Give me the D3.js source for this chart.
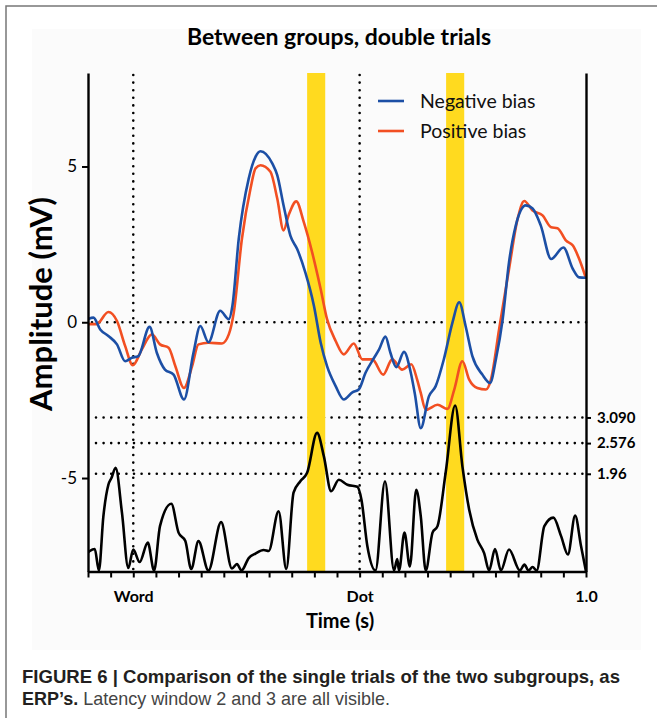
<!DOCTYPE html>
<html><head><meta charset="utf-8">
<script src="https://cdn.jsdelivr.net/npm/d3@7"></script>
<style>body{margin:0;background:#fff} svg{display:block}</style>
</head><body><svg id="c" width="657" height="718"></svg>
<script>
// ---------- data ----------
const title = "Between groups, double trials";
const seriesNames = ["Negative bias", "Positive bias"];
const xTickLabels = {"0": "Word", "0.5": "Dot", "1": "1.0"};
const yTickValues = [-5, 0, 5];
const zThresholds = [1.96, 2.576, 3.09];
const zThresholdLabels = ["1.96", "2.576", "3.090"];
const bands = [[0.384, 0.424], [0.691, 0.731]];
const markers = [0, 0.5];

const negT = [-0.1,-0.088,-0.073,-0.055,-0.036,-0.018,-0.003,0.011,0.036,0.052,0.070,0.089,0.112,0.133,0.148,0.166,0.192,0.211,0.219,0.233,0.255,0.270,0.281,0.307,0.318,0.332,0.347,0.362,0.380,0.399,0.414,0.428,0.447,0.465,0.484,0.498,0.513,0.532,0.543,0.557,0.568,0.581,0.598,0.613,0.622,0.635,0.653,0.668,0.686,0.705,0.720,0.734,0.749,0.771,0.788,0.801,0.816,0.830,0.845,0.867,0.882,0.900,0.923,0.950,0.971,0.985,1.0];
const negA = [0.10,0.15,-0.23,-0.44,-0.71,-1.25,-1.14,-1.09,-0.15,-0.98,-1.52,-1.68,-2.48,-0.98,-0.12,-0.64,0.37,0.10,0.53,2.68,4.61,5.31,5.49,5.10,4.72,3.75,2.78,2.35,1.60,0.53,-0.66,-1.41,-2.05,-2.48,-2.25,-2.16,-1.62,-1.14,-0.87,-0.46,-0.98,-1.44,-0.95,-1.62,-2.30,-3.40,-2.38,-2.05,-1.19,-0.01,0.64,-0.12,-1.09,-1.68,-1.95,-1.19,0.10,1.93,3.11,3.75,3.65,3.11,2.03,2.40,1.71,1.44,1.43];

const posT = [-0.1,-0.081,-0.055,-0.036,-0.018,-0.001,0.019,0.041,0.059,0.078,0.093,0.112,0.130,0.144,0.166,0.196,0.211,0.222,0.240,0.259,0.270,0.281,0.303,0.318,0.332,0.343,0.360,0.3765,0.395,0.414,0.428,0.447,0.465,0.487,0.506,0.528,0.552,0.572,0.594,0.614,0.627,0.635,0.646,0.672,0.694,0.709,0.727,0.742,0.760,0.779,0.790,0.808,0.830,0.849,0.8635,0.882,0.904,0.923,0.937,0.956,0.971,0.985,1.0];
const posA = [-0.06,-0.06,0.33,0.04,-0.76,-1.38,-0.87,-0.39,-0.71,-0.82,-1.41,-2.11,-1.41,-0.71,-0.66,-0.68,-0.39,0.31,2.68,4.29,4.94,5.04,4.83,3.97,2.95,3.43,3.88,3.22,2.25,1.06,0.10,-0.60,-1.03,-0.68,-1.19,-1.19,-1.68,-1.19,-1.52,-1.35,-1.84,-2.27,-2.81,-2.65,-2.78,-2.16,-1.25,-1.84,-2.11,-2.16,-1.84,-0.23,1.71,3.32,3.89,3.59,3.43,3.05,3.02,2.62,2.46,2.03,1.41];

const zT = [-0.1,-0.096,-0.085,-0.076,-0.066,-0.055,-0.048,-0.039,-0.025,-0.011,0.000,0.014,0.032,0.046,0.059,0.084,0.100,0.115,0.128,0.144,0.166,0.194,0.218,0.229,0.239,0.255,0.270,0.288,0.299,0.321,0.338,0.354,0.369,0.384,0.406,0.421,0.437,0.454,0.473,0.495,0.504,0.517,0.535,0.556,0.576,0.583,0.587,0.599,0.611,0.625,0.635,0.646,0.661,0.672,0.690,0.711,0.727,0.742,0.760,0.775,0.786,0.799,0.812,0.830,0.854,0.864,0.873,0.882,0.891,0.908,0.928,0.945,0.960,0.976,0.989,1.0];
const zV = [0.38,0.41,0.45,0.02,1.11,1.74,1.88,2.08,1.18,0.07,0.44,0.19,0.58,0.02,0.91,1.36,0.78,0.61,0.05,0.61,0.02,0.99,0.06,0.15,0.02,0.27,0.36,0.43,0.41,1.21,0.05,1.58,1.81,1.98,2.78,2.31,1.61,1.84,1.74,1.70,1.44,0.51,0.02,1.81,0.02,0.25,0.02,0.78,0.10,1.64,1.11,0.02,0.78,0.91,1.98,3.33,2.11,1.24,0.64,0.37,0.02,0.45,0.02,0.44,0.02,0.14,0.02,0.09,0.02,0.91,1.08,0.71,0.34,1.12,0.51,0.0];

// ---------- layout ----------
const svg = d3.select("#c");
const L = 88, R = 586, T = 73, B = 571.5;
const FONT = "Lato, 'Open Sans', sans-serif";
const x = d3.scaleLinear().domain([-0.1, 1.0]).range([L, R]);
const y = d3.scaleLinear().domain([-8, 8]).range([B, T]);
const z = d3.scaleLinear().domain([0, 10]).range([B, T]);
const BLUE = "#1c4fa5", RED = "#f24f22", YEL = "#ffda1f";

// frame + panel
svg.append("rect").attr("x", 32).attr("y", 29).attr("width", 609).attr("height", 621).attr("fill", "#fbfbfb");
svg.append("path").attr("d", "M6,718V6H657").attr("fill", "none").attr("stroke", "#777").attr("stroke-width", 1.5);

svg.append("defs").append("clipPath").attr("id", "clip")
  .append("rect").attr("x", L).attr("y", T).attr("width", R - L).attr("height", B - T);

// dotted reference lines
const dot = sel => sel.attr("stroke", "#000").attr("stroke-width", 2.6)
  .attr("stroke-dasharray", "0 7.6").attr("stroke-linecap", "round").attr("fill", "none");
markers.forEach(m => svg.append("line").attr("x1", x(m)).attr("x2", x(m)).attr("y1", T + 2).attr("y2", B).call(dot));
svg.append("line").attr("x1", L + 4).attr("x2", R).attr("y1", y(0)).attr("y2", y(0)).call(dot);
zThresholds.forEach(t => svg.append("line").attr("x1", L + 8).attr("x2", R).attr("y1", z(t)).attr("y2", z(t)).call(dot));

// bands
bands.forEach(b => svg.append("rect").attr("x", x(b[0])).attr("width", x(b[1]) - x(b[0]))
  .attr("y", T).attr("height", B - T).attr("fill", YEL));

// curves
const g = svg.append("g").attr("clip-path", "url(#clip)");
const lineA = d3.line().x(d => x(d[0])).y(d => y(d[1])).curve(d3.curveMonotoneX);
const lineZ = d3.line().x(d => x(d[0])).y(d => z(d[1])).curve(d3.curveMonotoneX);
g.append("path").datum(d3.zip(zT, zV)).attr("d", lineZ).attr("fill", "none").attr("stroke", "#000").attr("stroke-width", 2.6).attr("stroke-linejoin", "round");
g.append("path").datum(d3.zip(posT, posA)).attr("d", lineA).attr("fill", "none").attr("stroke", RED).attr("stroke-width", 2.6).attr("stroke-linejoin", "round");
g.append("path").datum(d3.zip(negT, negA)).attr("d", lineA).attr("fill", "none").attr("stroke", BLUE).attr("stroke-width", 2.6).attr("stroke-linejoin", "round");

// axes
const styleAxis = (sel, fs, fw) => {
  sel.select(".domain").attr("stroke", "#000").attr("stroke-width", 2.4);
  sel.selectAll(".tick line").attr("stroke", "#000").attr("stroke-width", 2);
  sel.selectAll(".tick text").attr("fill", "#000").attr("font-family", FONT).attr("font-size", fs).attr("font-weight", fw);
};
svg.append("g").attr("transform", `translate(${L},0)`)
  .call(d3.axisLeft(y).tickValues(yTickValues).tickFormat(d => String(d)).tickSize(6).tickSizeOuter(0).tickPadding(5))
  .call(s => styleAxis(s, 17, 400));
const xTicks = d3.range(0, 23).map(i => +(-0.1 + i * 0.05).toFixed(2));
svg.append("g").attr("transform", `translate(0,${B})`)
  .call(d3.axisBottom(x).tickValues(xTicks).tickFormat(d => xTickLabels[String(d)] || "").tickSize(6).tickSizeOuter(0).tickPadding(13))
  .call(s => styleAxis(s, 16, 700));
svg.append("g").attr("transform", `translate(${R},0)`)
  .call(d3.axisRight(z).tickValues(zThresholds).tickFormat((d, i) => zThresholdLabels[i]).tickSize(5).tickSizeOuter(0).tickPadding(6))
  .call(s => styleAxis(s, 15, 700));

// titles
svg.append("text").attr("x", 339).attr("y", 45).attr("text-anchor", "middle")
  .attr("font-family", FONT).attr("font-weight", 700).attr("font-size", 23).text(title);
svg.append("text").attr("transform", "translate(52,304) rotate(-90)").attr("text-anchor", "middle")
  .attr("font-family", FONT).attr("font-weight", 700).attr("font-size", 31).text("Amplitude (mV)");
svg.append("text").attr("x", 340).attr("y", 628).attr("text-anchor", "middle")
  .attr("font-family", FONT).attr("font-weight", 700).attr("font-size", 20).text("Time (s)");

// legend
[BLUE, RED].forEach((c, i) => {
  const ly = 101 + i * 30;
  svg.append("line").attr("x1", 378).attr("x2", 404).attr("y1", ly).attr("y2", ly).attr("stroke", c).attr("stroke-width", 2.6);
  svg.append("text").attr("x", 420).attr("y", ly + 7).attr("font-family", FONT).attr("font-size", 19.5).attr("fill", "#111").text(seriesNames[i]);
});

// caption
const CF = "'Liberation Sans Narrow', 'Arial Narrow', 'Liberation Sans', sans-serif";
svg.append("text").attr("x", 22).attr("y", 683).attr("font-family", CF).attr("font-weight", 700)
  .attr("font-size", 19).attr("fill", "#231f20").attr("textLength", 598).attr("lengthAdjust", "spacingAndGlyphs")
  .text("FIGURE 6 | Comparison of the single trials of the two subgroups, as");
const c2 = svg.append("text").attr("x", 22).attr("y", 705).attr("font-family", CF).attr("font-size", 19)
  .attr("textLength", 368).attr("lengthAdjust", "spacingAndGlyphs");
c2.append("tspan").attr("font-weight", 700).attr("fill", "#231f20").text("ERP\u2019s.");
c2.append("tspan").attr("fill", "#444").text(" Latency window 2 and 3 are all visible.");
</script></body></html>
